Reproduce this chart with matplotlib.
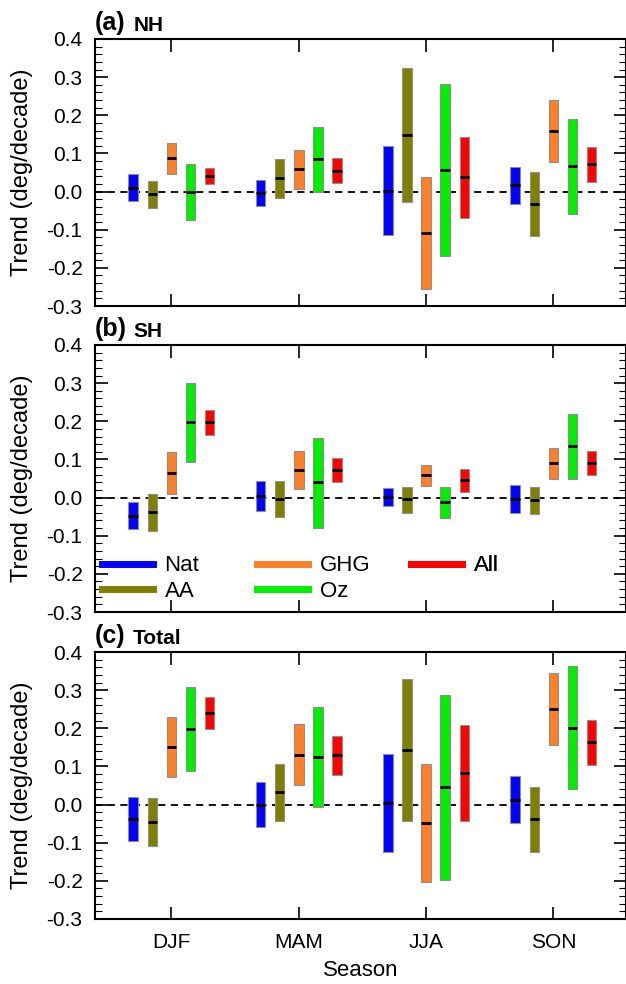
import numpy as np
import matplotlib.pyplot as plt
from matplotlib.lines import Line2D
from matplotlib.ticker import MultipleLocator

plt.rcParams['font.family'] = ['Liberation Sans', 'DejaVu Sans']

seasons = ['DJF', 'MAM', 'JJA', 'SON']
forcings = ['Nat', 'AA', 'GHG', 'Oz', 'All']
colors = ['#0000ff', '#808000', '#ff8026', '#00ee00', '#ff0000']

# trend ranges per forcing (rows) and season (columns): low, median, high
nh_low = [[-0.025, -0.039, -0.115, -0.032],
          [-0.042, -0.016, -0.028, -0.117],
          [0.047, 0.007, -0.255, 0.077],
          [-0.074, 0.000, -0.170, -0.059],
          [0.019, 0.023, -0.069, 0.025]]
nh_mid = [[0.009, -0.004, 0.002, 0.017],
          [-0.006, 0.035, 0.148, -0.033],
          [0.087, 0.058, -0.109, 0.159],
          [0.000, 0.085, 0.056, 0.066],
          [0.041, 0.055, 0.037, 0.071]]
nh_high = [[0.045, 0.031, 0.119, 0.065],
           [0.029, 0.086, 0.324, 0.051],
           [0.128, 0.108, 0.038, 0.241],
           [0.073, 0.168, 0.282, 0.190],
           [0.063, 0.088, 0.142, 0.116]]

sh_low = [[-0.083, -0.036, -0.023, -0.040],
          [-0.087, -0.050, -0.040, -0.042],
          [0.010, 0.023, 0.031, 0.050],
          [0.094, -0.079, -0.053, 0.050],
          [0.165, 0.040, 0.015, 0.058]]
sh_mid = [[-0.048, 0.003, 0.002, -0.003],
          [-0.039, -0.003, -0.005, -0.007],
          [0.064, 0.072, 0.059, 0.090],
          [0.197, 0.040, -0.012, 0.136],
          [0.198, 0.072, 0.045, 0.091]]
sh_high = [[-0.011, 0.043, 0.024, 0.033],
           [0.010, 0.043, 0.027, 0.027],
           [0.119, 0.121, 0.086, 0.131],
           [0.300, 0.157, 0.028, 0.219],
           [0.230, 0.103, 0.075, 0.123]]

tot_low = [[-0.095, -0.060, -0.124, -0.048],
           [-0.108, -0.042, -0.043, -0.125],
           [0.073, 0.052, -0.204, 0.156],
           [0.088, -0.007, -0.198, 0.041],
           [0.199, 0.078, -0.043, 0.103]]
tot_mid = [[-0.038, 0.000, 0.003, 0.013],
           [-0.045, 0.032, 0.143, -0.039],
           [0.152, 0.131, -0.049, 0.250],
           [0.199, 0.124, 0.045, 0.202],
           [0.240, 0.129, 0.082, 0.163]]
tot_high = [[0.020, 0.059, 0.132, 0.075],
            [0.017, 0.107, 0.329, 0.046],
            [0.230, 0.210, 0.106, 0.346],
            [0.308, 0.255, 0.287, 0.363],
            [0.281, 0.180, 0.208, 0.223]]

panels = [('(a)', 'NH', nh_low, nh_mid, nh_high),
          ('(b)', 'SH', sh_low, sh_mid, sh_high),
          ('(c)', 'Total', tot_low, tot_mid, tot_high)]

W, H = 626, 984
fig = plt.figure(figsize=(W / 100, H / 100), dpi=100)

x = np.arange(1, len(seasons) + 1)
offsets = [-0.3, -0.15, 0.0, 0.15, 0.3]
bw = 0.075

tops = [39, 345, 652]
ph = 267
left, right = 95, 626

for (tag, name, lo, md, hi), top in zip(panels, tops):
    ax = fig.add_axes([left / W, 1 - (top + ph) / H, (right - left) / W, ph / H])
    ax.axhline(0, color='black', lw=1.3, ls=(0, (4, 3)), zorder=1)
    for i in range(len(forcings)):
        xi = x + offsets[i]
        lo_i = np.array(lo[i])
        hi_i = np.array(hi[i])
        ax.bar(xi, hi_i - lo_i, bottom=lo_i, width=bw, color=colors[i],
               edgecolor='#909090', linewidth=0.8, zorder=2)
        ax.hlines(md[i], xi - bw / 2, xi + bw / 2, color='black', lw=2, zorder=3)
    ax.set_xlim(0.4, 4.57)
    ax.set_ylim(-0.3, 0.4)
    ax.yaxis.set_major_locator(MultipleLocator(0.1))
    ax.yaxis.set_minor_locator(MultipleLocator(0.02))
    ax.set_yticklabels(['%.1f' % v for v in ax.get_yticks()])
    ax.set_xticks(x)
    ax.tick_params(axis='both', which='both', direction='in', top=True, right=True)
    ax.tick_params(axis='y', which='major', length=9, width=1.2, labelsize=15, pad=9)
    ax.tick_params(axis='y', which='minor', length=5, width=0.8)
    ax.tick_params(axis='x', which='major', length=9, width=1.2, labelsize=15, pad=10)
    for s in ax.spines.values():
        s.set_linewidth(1.5)
    ax.set_ylabel('Trend (deg/decade)', fontsize=17, labelpad=10)
    ax.text(0.0, 1.015, tag, transform=ax.transAxes, fontsize=18, fontweight='bold',
            ha='left', va='bottom')
    ax.text(0.072, 1.015, name, transform=ax.transAxes, fontsize=15, fontweight='bold',
            ha='left', va='bottom')
    if tag == '(c)':
        ax.set_xticklabels(seasons)
        ax.set_xlabel('Season', fontsize=16, labelpad=6)
    else:
        ax.set_xticklabels([])
    if tag == '(b)':
        # one legend per column, two rows each
        cols = [(0, 2, 0.015), (2, 4, 0.307), (4, 5, 0.597)]
        for a, b, xpos in cols:
            handles = [Line2D([], [], color=c, lw=5) for c in colors[a:b]]
            leg = ax.legend(handles, forcings[a:b], loc='upper left',
                            bbox_to_anchor=(xpos - 0.018, 0.245), frameon=False,
                            fontsize=16, handlelength=2.3, handletextpad=0.5,
                            labelspacing=0.2, borderaxespad=0)
            ax.add_artist(leg)

fig.savefig('out.png', dpi=100)
